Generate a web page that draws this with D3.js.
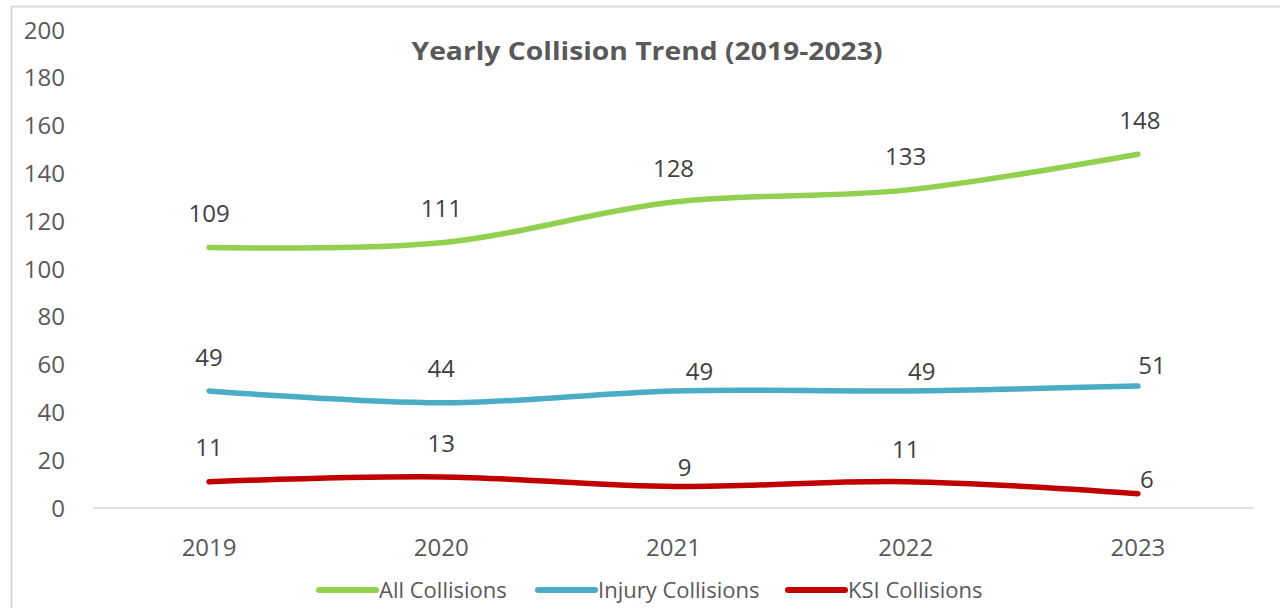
<!DOCTYPE html>
<html>
<head>
<meta charset="utf-8">
<script src="https://cdn.jsdelivr.net/npm/d3@7"></script>
<style>
  body { margin: 0; background: #fff; }
  svg text { font-family: "Open Sans", "Noto Sans", sans-serif; }
</style>
</head>
<body>
<div id="chart"></div>
<script>
var years = ['2019', '2020', '2021', '2022', '2023'];
var allCollisions = [109, 111, 128, 133, 148];
var injuryCollisions = [49, 44, 49, 49, 51];
var ksiCollisions = [11, 13, 9, 11, 6];
var yTicks = [0, 20, 40, 60, 80, 100, 120, 140, 160, 180, 200];

// label nudges [dx, dy] (Excel moved a few labels by hand)
var series = [
    {name: 'All Collisions', values: allCollisions, color: '#92d050',
     nudge: [[0, 0], [0, 0], [0, 0], [0, 0], [2, 0]]},
    {name: 'Injury Collisions', values: injuryCollisions, color: '#4bacc6',
     nudge: [[0, 0], [0, 0], [26, 14], [16, 14], [14, 13]]},
    {name: 'KSI Collisions', values: ksiCollisions, color: '#c00000',
     nudge: [[0, 0], [0, 0], [11, 15], [0, 2], [9, 20]]}
];

var width = 1280, height = 608;
var svg = d3.select('#chart').append('svg')
            .attr('width', width)
            .attr('height', height);

// chart frame
svg.append('rect')
   .attr('x', 11.5).attr('y', 6.5)
   .attr('width', 1300).attr('height', 620)
   .style('fill', 'none')
   .style('stroke', '#d9d9d9')
   .style('stroke-width', 2);

var x = d3.scaleBand().domain(years).range([93, 1254]);
var y = d3.scaleLinear().domain([0, 200]).range([508, 30]);

// x axis line + labels
svg.append('line')
   .attr('x1', 93).attr('x2', 1254)
   .attr('y1', y(0)).attr('y2', y(0))
   .style('stroke', '#d9d9d9').style('stroke-width', 1.5);

svg.selectAll('.xlab').data(years).enter().append('text')
   .attr('class', 'xlab')
   .attr('x', function (d) { return x(d) + x.bandwidth() / 2; })
   .attr('y', 556)
   .attr('text-anchor', 'middle')
   .style('font-size', '24px')
   .style('fill', '#595959')
   .text(function (d) { return d; });

svg.selectAll('.ylab').data(yTicks).enter().append('text')
   .attr('class', 'ylab')
   .attr('x', 65)
   .attr('y', function (d) { return y(d); })
   .attr('dy', '0.36em')
   .attr('text-anchor', 'end')
   .style('font-size', '24px')
   .style('fill', '#595959')
   .text(function (d) { return d; });

// title
svg.append('text')
   .attr('x', 647).attr('y', 60)
   .attr('text-anchor', 'middle')
   .attr('textLength', 471)
   .attr('lengthAdjust', 'spacingAndGlyphs')
   .style('font-size', '25px')
   .style('font-weight', 'bold')
   .style('fill', '#595959')
   .text('Yearly Collision Trend (2019-2023)');

var line = d3.line()
             .x(function (d, i) { return x(years[i]) + x.bandwidth() / 2; })
             .y(function (d) { return y(d); })
             .curve(d3.curveCardinal.tension(0));

series.forEach(function (s) {
    svg.append('path')
       .datum(s.values)
       .attr('d', line)
       .style('fill', 'none')
       .style('stroke', s.color)
       .style('stroke-width', 5.5)
       .style('stroke-linecap', 'round');

    svg.selectAll(null).data(s.values).enter().append('text')
       .attr('x', function (d, i) { return x(years[i]) + x.bandwidth() / 2 + s.nudge[i][0]; })
       .attr('y', function (d, i) { return y(d) - 34 + s.nudge[i][1]; })
       .attr('dy', '0.36em')
       .attr('text-anchor', 'middle')
       .style('font-size', '24px')
       .style('fill', '#404040')
       .text(function (d) { return d; });
});

// legend
var legendX = [319, 538, 788];
series.forEach(function (s, i) {
    svg.append('line')
       .attr('x1', legendX[i]).attr('x2', legendX[i] + 57)
       .attr('y1', 590).attr('y2', 590)
       .style('stroke', s.color)
       .style('stroke-width', 6)
       .style('stroke-linecap', 'round');
    svg.append('text')
       .attr('x', legendX[i] + 60).attr('y', 590)
       .attr('dy', '0.36em')
       .style('font-size', '22px')
       .style('fill', '#595959')
       .text(s.name);
});
</script>
</body>
</html>
